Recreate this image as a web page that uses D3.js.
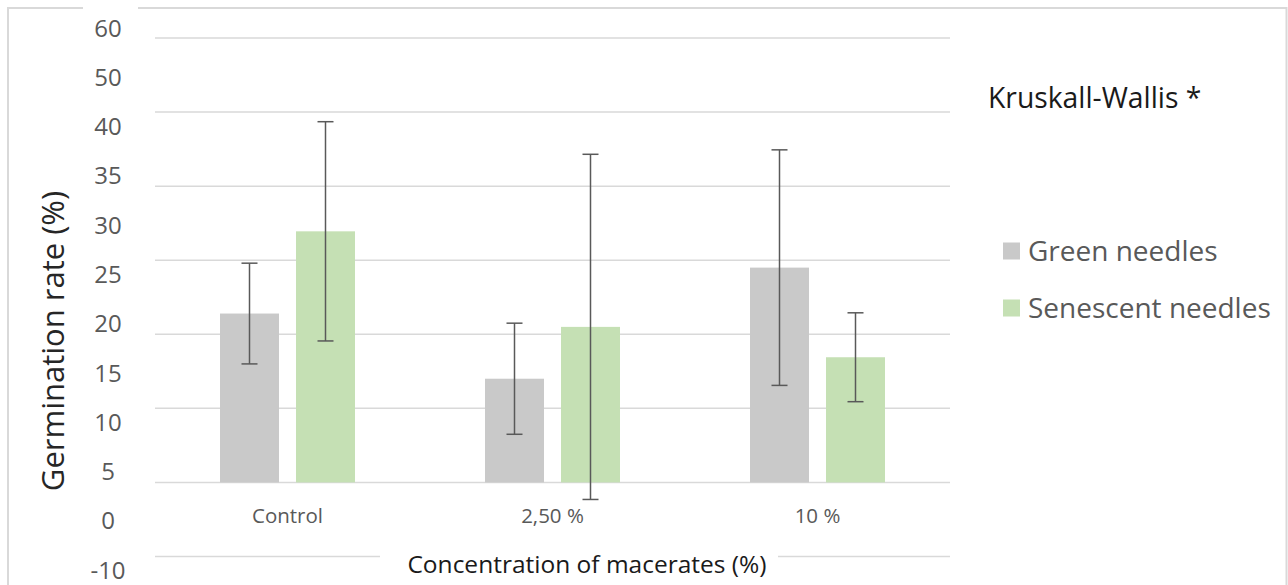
<!DOCTYPE html>
<html>
<head>
<meta charset="utf-8">
<script src="https://cdn.jsdelivr.net/npm/d3@7"></script>
<style>
  html, body { margin: 0; padding: 0; background: #fff; }
  svg { display: block; font-family: "Open Sans", sans-serif; }
</style>
</head>
<body>
<svg id="chart" width="1288" height="585"></svg>
<script>
// ---- data ----
const categories = ["Control", "2,50 %", "10 %"];
const seriesNames = ["Green needles", "Senescent needles"];
const greenMeans = [22.8, 14.0, 29.0];
const greenSD = [6.8, 7.5, 15.9];
const senescentMeans = [33.9, 21.0, 16.9];
const senescentSD = [14.8, 23.3, 6.0];
const gridValues = [-10, 0, 10, 20, 30, 40, 50, 60];
const yTickLabels = ["60", "50", "40", "35", "30", "25", "20", "15", "10", "5", "0", "-10"];

// ---- styles ----
const colors = { "Green needles": "#c9c9c9", "Senescent needles": "#c5e0b4" };
const gridColor = "#d9d9d9";
const textGray = "#595959";

const svg = d3.select("#chart");

// outer frame
svg.append("rect")
  .attr("x", 8).attr("y", 8).attr("width", 1278.5).attr("height", 590)
  .attr("fill", "none").attr("stroke", gridColor).attr("stroke-width", 2);

const plot = { left: 155, right: 950, top: 38, bottom: 556.5 };

const y = d3.scaleLinear().domain([-10, 60]).range([plot.bottom, plot.top]);
const x0 = d3.scaleBand().domain(categories).range([plot.left, plot.right]).padding(0);
const groupW = 135;
const x1 = d3.scaleBand().domain(seriesNames)
  .range([(x0.bandwidth() - groupW) / 2, (x0.bandwidth() + groupW) / 2])
  .paddingInner(17 / 76).paddingOuter(0);

// gridlines
svg.append("g").selectAll("line").data(gridValues).join("line")
  .attr("x1", plot.left).attr("x2", plot.right)
  .attr("y1", d => y(d)).attr("y2", d => y(d))
  .attr("stroke", gridColor).attr("stroke-width", 1.5);

// bars
const rows = categories.map((c, i) => [
  { cat: c, s: seriesNames[0], mean: greenMeans[i], sd: greenSD[i] },
  { cat: c, s: seriesNames[1], mean: senescentMeans[i], sd: senescentSD[i] }
]).flat();

svg.append("g").selectAll("rect").data(rows).join("rect")
  .attr("x", d => x0(d.cat) + x1(d.s))
  .attr("width", x1.bandwidth())
  .attr("y", d => y(d.mean))
  .attr("height", d => y(0) - y(d.mean))
  .attr("fill", d => colors[d.s]);

// error bars
const eb = svg.append("g").attr("stroke", "#595959").attr("stroke-width", 1.5).attr("fill", "none");
const cap = 8;
rows.forEach(d => {
  const cx = x0(d.cat) + x1(d.s) + x1.bandwidth() / 2;
  const yt = y(d.mean + d.sd), yb = y(d.mean - d.sd);
  eb.append("line").attr("x1", cx).attr("x2", cx).attr("y1", yt).attr("y2", yb);
  eb.append("line").attr("x1", cx - cap).attr("x2", cx + cap).attr("y1", yt).attr("y2", yt);
  eb.append("line").attr("x1", cx - cap).attr("x2", cx + cap).attr("y1", yb).attr("y2", yb);
});

// x tick labels
svg.append("g").selectAll("text").data(categories).join("text")
  .attr("x", d => x0(d) + x0.bandwidth() / 2)
  .attr("y", 523)
  .attr("text-anchor", "middle")
  .attr("fill", textGray)
  .attr("font-size", 20.5)
  .text(d => d);

// white box behind top label (covers frame)
svg.append("rect").attr("x", 83).attr("y", 0).attr("width", 55).attr("height", 20).attr("fill", "#fff");

// y tick labels (evenly spaced, as in the reference)
const yLab = d3.scalePoint().domain(yTickLabels).range([28, 570]);
svg.append("g").selectAll("text").data(yTickLabels).join("text")
  .attr("x", 108)
  .attr("y", d => yLab(d))
  .attr("dy", "0.36em")
  .attr("text-anchor", "middle")
  .attr("fill", textGray)
  .attr("font-size", 24)
  .text(d => d);

// y axis title
svg.append("text")
  .attr("transform", "translate(64,341) rotate(-90)")
  .attr("text-anchor", "middle")
  .attr("fill", "#262626")
  .attr("font-size", 31)
  .text("Germination rate (%)");

// x axis title with white backing
svg.append("rect").attr("x", 380).attr("y", 545).attr("width", 398).attr("height", 40).attr("fill", "#fff");
svg.append("text")
  .attr("x", 587).attr("y", 573)
  .attr("text-anchor", "middle")
  .attr("fill", "#1a1a1a")
  .attr("font-size", 24.5)
  .text("Concentration of macerates (%)");

// annotation
svg.append("text")
  .attr("x", 988).attr("y", 108)
  .attr("fill", "#1a1a1a")
  .attr("font-size", 28.3)
  .text("Kruskall-Wallis *");

// legend
const legendY = d3.scalePoint().domain(seriesNames).range([251, 308]);
const lg = svg.append("g").selectAll("g").data(seriesNames).join("g")
  .attr("transform", d => `translate(1003,${legendY(d)})`);
lg.append("rect").attr("x", 0).attr("y", -8.5).attr("width", 17).attr("height", 17)
  .attr("fill", d => colors[d]);
lg.append("text").attr("x", 25).attr("y", 9.5)
  .attr("fill", textGray).attr("font-size", 28)
  .text(d => d);
</script>
</body>
</html>
